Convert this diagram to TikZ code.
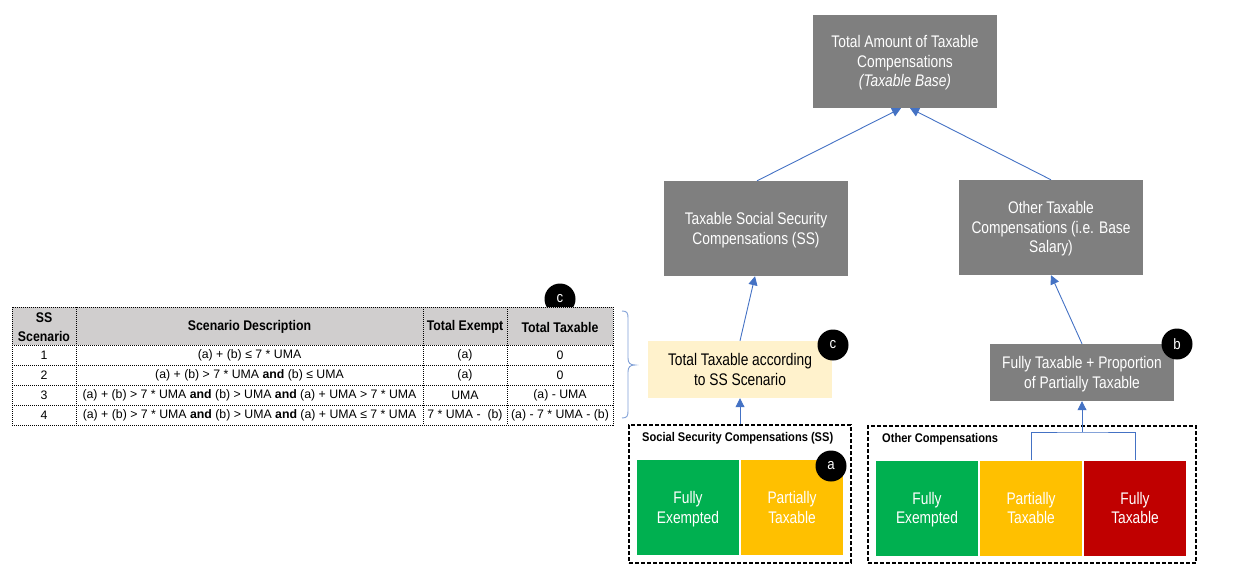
\documentclass[tikz,border=0pt]{standalone}
\usepackage{fontspec}
\setmainfont{Liberation Sans}
\newfontfamily\boxfont[FakeStretch=0.82]{Liberation Sans}
\newfontfamily\hfont[FakeStretch=0.88]{Liberation Sans}
\usetikzlibrary{arrows.meta}
\definecolor{boxgray}{HTML}{7F7F7F}
\definecolor{cgreen}{HTML}{00B050}
\definecolor{cyellow}{HTML}{FFC000}
\definecolor{cred}{HTML}{C00000}
\definecolor{cream}{HTML}{FFF2CC}
\definecolor{hdrgray}{HTML}{D0CECE}
\definecolor{arrblue}{HTML}{4472C4}
\definecolor{braceblue}{HTML}{7F9FD6}
\newcommand{\sst}{\rule[-4pt]{0pt}{19.5pt}}
\begin{document}
\begin{tikzpicture}[x=1pt,y=-1pt,
  graybox/.style={rectangle,fill=boxgray,text=white,inner sep=0pt,align=center,
    minimum width=184pt,font=\boxfont\fontsize{16.8}{19.5}\selectfont},
  colbox/.style={rectangle,text=white,inner sep=0pt,align=center,
    minimum width=102pt,minimum height=95pt,font=\boxfont\fontsize{16.8}{19.5}\selectfont},
  dashbox/.style={rectangle,draw=black,line width=1.3pt,dash pattern=on 4pt off 2pt,inner sep=0pt},
  badge/.style={circle,fill=black,text=white,minimum size=31pt,inner sep=0pt,font=\hfont\fontsize{15}{15}\selectfont},
  arr/.style={draw=arrblue,line width=0.9pt,-{Triangle[length=9pt,width=9pt]}},
  conn/.style={draw=arrblue,line width=0.9pt},
  tline/.style={draw=black,line width=0.8pt,dash pattern=on 1pt off 1pt},
  hdr/.style={font=\hfont\fontsize{14}{19}\selectfont\bfseries,align=center,inner sep=0pt},
  cell/.style={font=\fontsize{12.3}{14}\selectfont,inner sep=0pt},
  ttl/.style={font=\hfont\fontsize{12.6}{14}\selectfont\bfseries,anchor=west,inner sep=0pt}]
\useasboundingbox (0,0) rectangle (1233,576);

% ---------- main boxes ----------
\node[graybox,minimum height=93pt] (top) at (905,61.5)
  {\sst Total Amount of Taxable\\\sst Compensations\\\sst\textit{(Taxable Base)}};
\node[graybox,minimum height=95pt] (ss) at (756,228.5)
  {\sst Taxable Social Security\\\sst Compensations (SS)};
\node[graybox,minimum height=95pt] (oth) at (1051,227.5)
  {\sst Other Taxable\\\sst Compensations (i.e. Base\\\sst Salary)};
\node[graybox,fill=cream,text=black,minimum height=57pt] (yel) at (740,369.5)
  {\sst Total Taxable according\\\sst to SS Scenario};
\node[graybox,minimum height=57pt] (ftp) at (1082,372.5)
  {\sst Fully Taxable + Proportion\\\sst of Partially Taxable};

% ---------- dashed groups ----------
\node[dashbox,minimum width=222pt,minimum height=138pt] (ssbox) at (740,494) {};
\node[dashbox,minimum width=328pt,minimum height=137pt] (othbox) at (1032,494.5) {};
\node[ttl] (ssttl) at (642,438) {Social Security Compensations (SS)};
\node[ttl] (othttl) at (882,439) {Other Compensations};

\node[colbox,fill=cgreen] (g1) at (688,507.5) {\sst Fully\\\sst Exempted};
\node[colbox,fill=cyellow] (y1) at (792,507.5) {\sst Partially\\\sst Taxable};
\node[colbox,fill=cgreen] (g2) at (927,508) {\sst Fully\\\sst Exempted};
\node[colbox,fill=cyellow] (y2) at (1031,508) {\sst Partially\\\sst Taxable};
\node[colbox,fill=cred] (r2) at (1135,508) {\sst Fully\\\sst Taxable};

% ---------- badges ----------
\node[badge] (ba) at (831,466) {a};
\node[badge] (bb) at (1177,344) {b};
\node[badge] (bc) at (833,345) {c};
\node[badge] (bc2) at (560,299) {c};

% ---------- connectors ----------
\coordinate (jn) at (1082,432);
\draw[conn] (y2.north) |- (jn) -| (r2.north);
\draw[arr] (jn) -- (ftp.south);
\draw[arr] (ssbox.north) -- (yel.south);
\draw[arr] (yel.north) -- ([xshift=-1pt]ss.south);
\draw[arr] (ftp.north) -- (oth.south);
\draw[arr] ([xshift=1pt]ss.north) -- ([xshift=-4pt]top.south);
\draw[arr] (oth.north) -- ([xshift=5pt]top.south);

% ---------- table ----------
\fill[hdrgray] (12,307) rectangle (613,345);
\draw[tline] (12,307) rectangle (613,425);
\foreach \yy in {345,365,385,405} \draw[tline] (12,\yy) -- (613,\yy);
\foreach \xx in {76,423,507} \draw[tline] (\xx,307) -- (\xx,425);

\node[hdr] (h1) at (44,327) {SS\\Scenario};
\node[hdr] (h2) at (249.5,327) {Scenario Description};
\node[hdr] (h3) at (465,327) {Total Exempt};
\node[hdr] (h4) at (560,327) {Total Taxable};

\node[cell] (r1a) at (44,355) {1};
\node[cell] (r1b) at (249.5,355) {(a) + (b) ≤ 7 * UMA};
\node[cell] (r1c) at (465,355) {(a)};
\node[cell] (r1d) at (560,355) {0};

\node[cell] (r2a) at (44,375) {2};
\node[cell] (r2b) at (249.5,375) {(a) + (b) > 7 * UMA \textbf{and} (b) ≤ UMA};
\node[cell] (r2c) at (465,375) {(a)};
\node[cell] (r2d) at (560,375) {0};

\node[cell] (r3a) at (44,395) {3};
\node[cell] (r3b) at (249.5,395) {(a) + (b) > 7 * UMA \textbf{and} (b) > UMA \textbf{and} (a) + UMA > 7 * UMA};
\node[cell] (r3c) at (465,395) {UMA};
\node[cell] (r3d) at (560,395) {(a) - UMA};

\node[cell] (r4a) at (44,415) {4};
\node[cell] (r4b) at (249.5,415) {(a) + (b) > 7 * UMA \textbf{and} (b) > UMA \textbf{and} (a) + UMA ≤ 7 * UMA};
\node[cell] (r4c) at (465,415) {7 * UMA -\ \ (b)};
\node[cell] (r4d) at (560,415) {(a) - 7 * UMA - (b)};

% ---------- brace ----------
\draw[braceblue,line width=0.9pt]
  (622,311) .. controls (627,311) and (628,313) .. (628,318) -- (628,358)
  .. controls (628,363) and (630,365) .. (635,365)
  .. controls (630,365) and (628,367) .. (628,372) -- (628,411)
  .. controls (628,416) and (627,418) .. (622,418);
\end{tikzpicture}
\end{document}
